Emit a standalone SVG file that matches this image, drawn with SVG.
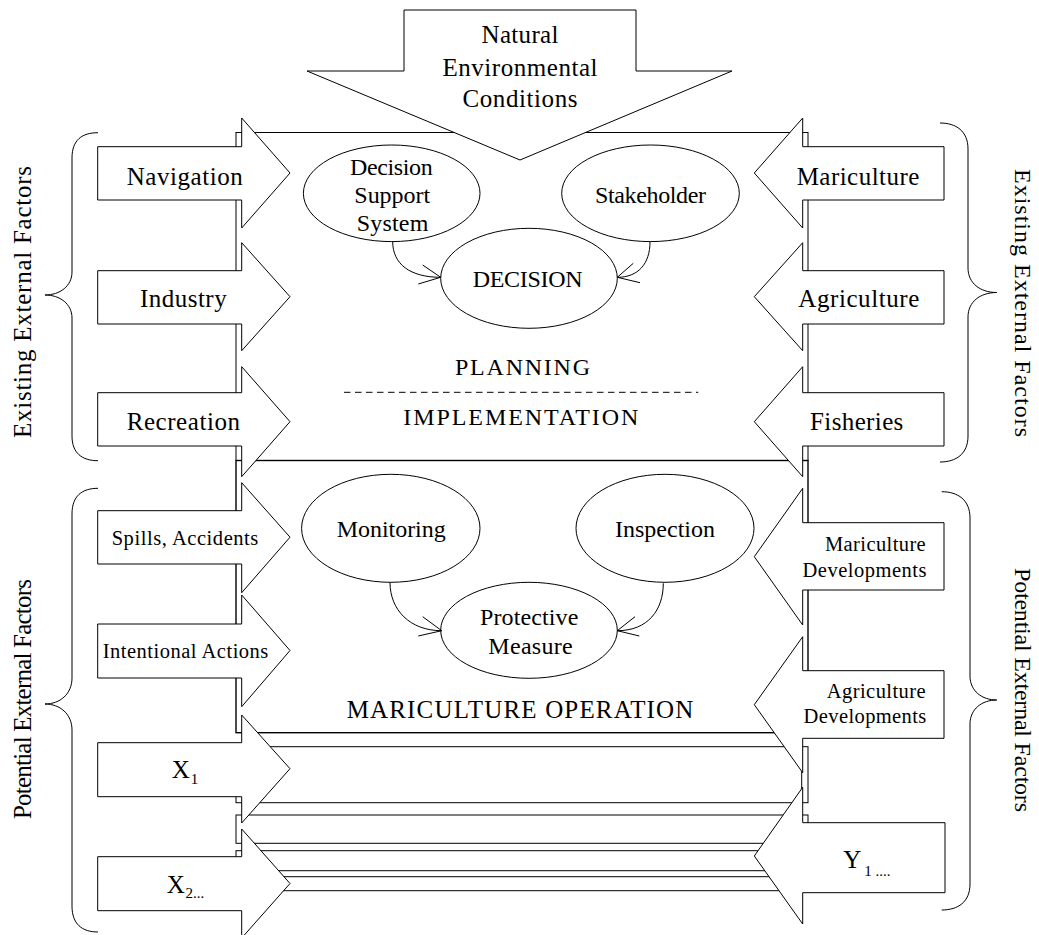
<svg xmlns="http://www.w3.org/2000/svg" width="1039" height="935" viewBox="0 0 1039 935">
<style>
.ln{fill:none;stroke:#000;stroke-width:1}
.sh{fill:#fff;stroke:#000;stroke-width:1}
.t{font-family:"Liberation Serif","Times New Roman",serif;fill:#000}
.c{text-anchor:middle}
.e{text-anchor:end}
.f25{font-size:25px}
.f24{font-size:24px}
.f21{font-size:20.5px}
.f15{font-size:15px}
</style>
<rect width="1039" height="935" fill="#fff"/>
<g id="frames">
<rect class="ln" x="236" y="132.5" width="572" height="328"/>
<rect class="ln" x="236" y="460.5" width="572" height="272.2" style="stroke-width:1.4"/>
<rect class="ln" x="236" y="746.7" width="572" height="56"/>
<rect class="ln" x="236" y="815" width="572" height="28.3"/>
<rect class="ln" x="236" y="850.7" width="572" height="26"/>
<rect class="ln" x="236" y="870.7" width="572" height="20"/>
<line class="ln" x1="801.7" y1="738.3" x2="801.7" y2="802.7"/>
</g>
<g id="natural-environmental-conditions">
<polygon class="sh" points="404,10 636,10 636,71 732,71 520,160 307,71 404,71"/>
<text class="t c f25" x="520" y="43.3" textLength="77">Natural</text>
<text class="t c f25" x="520" y="75.5" textLength="155">Environmental</text>
<text class="t c f25" x="520" y="106.5" textLength="115">Conditions</text>
</g>
<g id="planning">
<text class="t c f24" x="522.5" y="375" textLength="135">PLANNING</text>
<line class="ln" x1="344" y1="392.3" x2="698.3" y2="392.3" stroke-dasharray="6.5 4.5"/>
<text class="t c f24" x="520.8" y="425" textLength="235">IMPLEMENTATION</text>
</g>
<g id="mariculture-operation">
<text class="t c f25" x="520" y="718.3" textLength="346.7">MARICULTURE OPERATION</text>
</g>
<g id="navigation">
<polygon class="sh" points="97.7,146.7 241.7,146.7 241.7,118 290,173 241.7,228 241.7,200 97.7,200"/>
<text class="t c f25" x="184.7" y="185" textLength="116">Navigation</text>
</g>
<g id="industry">
<polygon class="sh" points="97.7,270.7 241.7,270.7 241.7,242.7 290,296.7 241.7,350.7 241.7,324 97.7,324"/>
<text class="t c f25" x="183.3" y="306.7" textLength="86.7">Industry</text>
</g>
<g id="recreation">
<polygon class="sh" points="97.7,392.7 241.7,392.7 241.7,366.7 290,421.7 241.7,476.7 241.7,446 97.7,446"/>
<text class="t c f25" x="183.3" y="430" textLength="113.3">Recreation</text>
</g>
<g id="spills-accidents">
<polygon class="sh" points="97.7,510.7 241.7,510.7 241.7,482.7 290,537.2 241.7,592.7 241.7,564 97.7,564"/>
<text class="t c f21" x="185" y="545" textLength="146.7">Spills, Accidents</text>
</g>
<g id="intentional-actions">
<polygon class="sh" points="97.7,624 241.7,624 241.7,595 290,650.5 241.7,706.7 241.7,678 97.7,678"/>
<text class="t c f21" x="185.5" y="658.3" textLength="165.7">Intentional Actions</text>
</g>
<g id="x1">
<polygon class="sh" points="97.7,742.7 241.7,742.7 241.7,715 290,768.7 241.7,823 241.7,796.7 97.7,796.7"/>
<text class="t f25" x="171.7" y="778.3">X</text>
<text class="t f15" x="190.7" y="784">1</text>
</g>
<g id="x2">
<polygon class="sh" points="97.7,856.7 241.7,856.7 241.7,829 290,883.5 241.7,938 241.7,910.7 97.7,910.7"/>
<text class="t f25" x="166.7" y="892.7">X</text>
<text class="t f15" x="185.5" y="898">2...</text>
</g>
<g id="mariculture">
<polygon class="sh" points="944,146.7 802.7,146.7 802.7,118 754.3,173 802.7,228 802.7,200 944,200"/>
<text class="t c f25" x="858" y="185" textLength="122.7">Mariculture</text>
</g>
<g id="agriculture">
<polygon class="sh" points="944,270.7 802.7,270.7 802.7,242.7 754.3,296.7 802.7,350.7 802.7,324 944,324"/>
<text class="t c f25" x="858.8" y="306.7" textLength="121">Agriculture</text>
</g>
<g id="fisheries">
<polygon class="sh" points="944,392.7 802.7,392.7 802.7,366.7 754.3,421.7 802.7,476.7 802.7,446 944,446"/>
<text class="t c f25" x="856.7" y="430" textLength="93.3">Fisheries</text>
</g>
<g id="mariculture-developments">
<polygon class="sh" points="944,522.7 802.7,522.7 802.7,488.3 754.3,556.7 802.7,625 802.7,590 944,590"/>
<text class="t e f21" x="925.7" y="550.7" textLength="100.7">Mariculture</text>
<text class="t e f21" x="926.5" y="576.7" textLength="124">Developments</text>
</g>
<g id="agriculture-developments">
<polygon class="sh" points="944,670.7 802.7,670.7 802.7,636.7 754.3,704.7 802.7,772.7 802.7,738.3 944,738.3"/>
<text class="t e f21" x="925.7" y="697.5" textLength="99">Agriculture</text>
<text class="t e f21" x="926.3" y="723.3" textLength="122.7">Developments</text>
</g>
<g id="y1">
<polygon class="sh" points="945,822.7 802.7,822.7 802.7,787.3 754.3,856 802.7,924 802.7,892.7 945,892.7"/>
<text class="t f25" x="843.3" y="868.3">Y</text>
<text class="t f15" x="864.3" y="876">1 ....</text>
</g>
<g id="decision-support-system">
<ellipse class="sh" cx="391.7" cy="193.3" rx="88.3" ry="48.3"/>
<text class="t c f24" x="391.3" y="175" textLength="82.7">Decision</text>
<text class="t c f24" x="392.2" y="203.3" textLength="75.7">Support</text>
<text class="t c f24" x="392.5" y="230.7" textLength="71.7">System</text>
</g>
<g id="stakeholder">
<ellipse class="sh" cx="650.5" cy="193.3" rx="88.8" ry="48.3"/>
<text class="t c f24" x="650.5" y="203.3" textLength="111">Stakeholder</text>
</g>
<g id="decision">
<ellipse class="sh" cx="529" cy="278.3" rx="88.3" ry="50"/>
<text class="t c f24" x="527.7" y="286.7" textLength="110">DECISION</text>
</g>
<g id="monitoring">
<ellipse class="sh" cx="390.8" cy="528.3" rx="89.2" ry="54"/>
<text class="t c f24" x="391.2" y="536.7" textLength="109">Monitoring</text>
</g>
<g id="inspection">
<ellipse class="sh" cx="665" cy="528.3" rx="89" ry="54"/>
<text class="t c f24" x="665" y="536.7" textLength="100">Inspection</text>
</g>
<g id="protective-measure">
<ellipse class="sh" cx="529" cy="630.3" rx="88.3" ry="48"/>
<text class="t c f24" x="529.2" y="625" textLength="98.3">Protective</text>
<text class="t c f24" x="530.5" y="654" textLength="84.3">Measure</text>
</g>
<g id="connectors">
<path class="ln" d="M392.7,241.7 C392.7,264 410,277.3 440.7,277.3"/>
<path class="ln" d="M422.7,265 L440.7,277.3 L418.3,284"/>
<path class="ln" d="M650,241.7 C650,264 638,277.3 617.3,277.3"/>
<path class="ln" d="M633.3,263.3 L617.3,277.3 L640,282.7"/>
<path class="ln" d="M390,582.3 C390,610 410,630.7 441.7,630.7"/>
<path class="ln" d="M422.7,616.7 L441.7,630.7 L418.3,636"/>
<path class="ln" d="M663.3,583.3 C663.3,610 648,630.7 617.3,630.7"/>
<path class="ln" d="M635,616.7 L617.3,630.7 L639.3,636"/>
</g>
<g id="existing-left">
<path class="ln" d="M98,132.7 C82,132.7 72,140 72,158 L72,272 C72,286 60,295 45,295 C60,295 72,304 72,318 L72,436 C72,453 82,460.7 98,460.7"/>
<text class="t c f25" transform="translate(31,302) rotate(-90)" x="0" y="0" textLength="272">Existing External Factors</text>
</g>
<g id="potential-left">
<path class="ln" d="M98,488.3 C82,488.3 72,496 72,514 L72,678 C72,694 60,704 45,704 C60,704 72,714 72,730 L72,906 C72,924 82,932 98,932"/>
<text class="t c f25" transform="translate(31,699) rotate(-90)" x="0" y="0" textLength="240">Potential External Factors</text>
</g>
<g id="existing-right">
<path class="ln" d="M940,123 C956,123 968,131 968,149 L968,268 C968,283 980,292.5 996.7,292.5 C980,292.5 968,302 968,317 L968,436 C968,454 956,462 940,462"/>
<text class="t c f24" transform="translate(1015,303) rotate(90)" x="0" y="0" textLength="268">Existing External Factors</text>
</g>
<g id="potential-right">
<path class="ln" d="M941.7,491.7 C958,491.7 970,500 970,518 L970,676 C970,691 982,700 996.7,700 C982,700 970,709 970,724 L970,884 C970,902 958,910 941.7,910"/>
<text class="t c f24" transform="translate(1015,690) rotate(90)" x="0" y="0" textLength="244">Potential External Factors</text>
</g>
</svg>
